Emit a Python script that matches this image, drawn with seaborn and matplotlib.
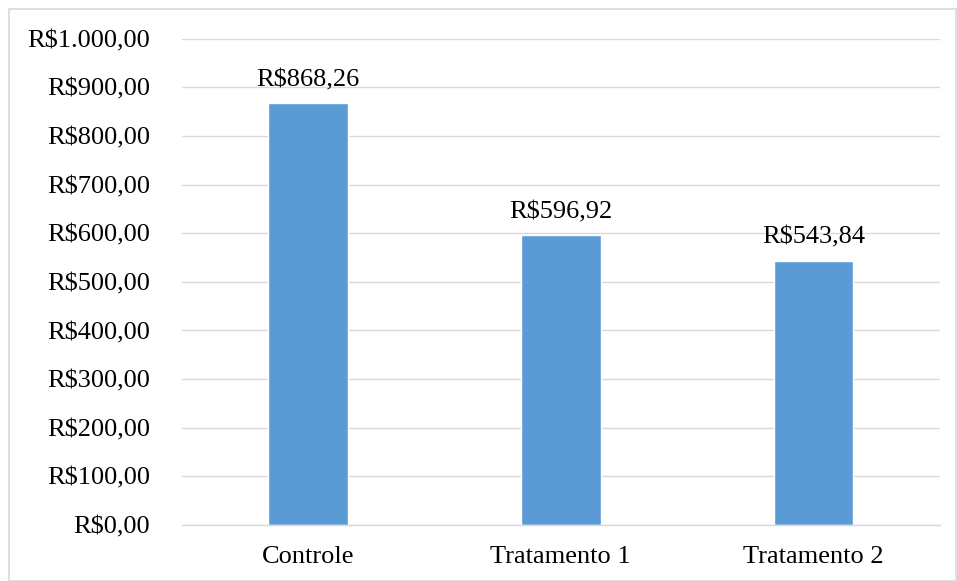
import matplotlib

matplotlib.use("Agg")

import matplotlib.pyplot as plt
import pandas as pd
import seaborn as sns
from matplotlib.patches import Rectangle

categories = ["Controle", "Tratamento 1", "Tratamento 2"]
values = [868.26, 596.92, 543.84]
y_ticks = [0, 100, 200, 300, 400, 500, 600, 700, 800, 900, 1000]


def brl(value: float) -> str:
    """Formata valor no estilo R$1.000,00."""
    text = f"{value:,.2f}"
    text = text.replace(",", "X").replace(".", ",").replace("X", ".")
    return "R$" + text


sns.set_theme(style="white")
plt.rcParams["font.family"] = ["Liberation Serif", "DejaVu Serif"]

data = pd.DataFrame({"grupo": categories, "custo": values})

fig = plt.figure(figsize=(9.57, 5.81), dpi=100)
ax = fig.add_axes([0.190, 0.0964, 0.792, 0.837])

sns.barplot(data=data, x="grupo", y="custo", color="#5B9BD5", width=0.316, saturation=1, ax=ax)

ax.set_ylim(0, 1000)
ax.set_yticks(y_ticks)
ax.set_yticklabels([brl(v) for v in y_ticks], fontsize=19, color="black")
ax.tick_params(axis="x", labelsize=19, colors="black", length=0, pad=15)
ax.tick_params(axis="y", length=0, pad=23)
ax.yaxis.grid(True, color="#d9d9d9", linewidth=1)
ax.set_axisbelow(True)
ax.set_xlabel("")
ax.set_ylabel("")
for side in ["top", "right", "left"]:
    ax.spines[side].set_visible(False)
ax.spines["bottom"].set_color("#d9d9d9")
ax.spines["bottom"].set_linewidth(1)

for i, v in enumerate(values):
    ax.text(i, v + 24, brl(v), ha="center", va="bottom", fontsize=19, color="black")

fig.patches.append(
    Rectangle((9 / 957, 0), 1 - 10 / 957, 1 - 9 / 581, transform=fig.transFigure,
              fill=False, edgecolor="#d9d9d9", linewidth=1.2)
)

fig.savefig("out.png", dpi=100)
plt.close(fig)
